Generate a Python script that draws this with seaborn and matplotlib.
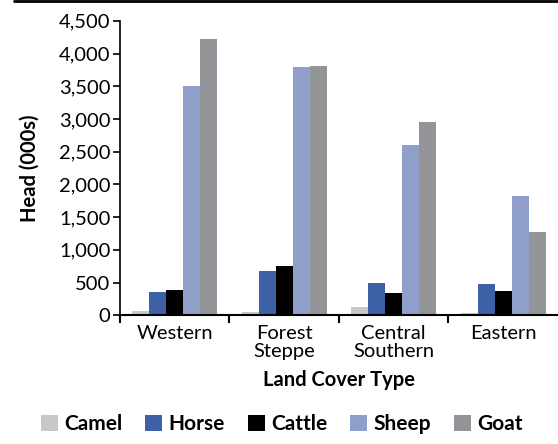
import numpy as np
import pandas as pd
import matplotlib
matplotlib.use("Agg")
import matplotlib.pyplot as plt
from matplotlib.lines import Line2D
from matplotlib.ticker import FuncFormatter
import seaborn as sns

# values (thousand head)
regions = ["Western", "Forest\nSteppe", "Central\nSouthern", "Eastern"]
animals = ["Camel", "Horse", "Cattle", "Sheep", "Goat"]
camel = [70, 50, 130, 30]
horse = [360, 680, 490, 480]
cattle = [390, 760, 340, 370]
sheep = [3510, 3790, 2600, 1830]
goat = [4220, 3810, 2950, 1280]
colors = ["#c8c8c8", "#3e60a6", "#000000", "#909fc9", "#939498"]

rows = []
for name, vals in zip(animals, [camel, horse, cattle, sheep, goat]):
    for reg, v in zip(regions, vals):
        rows.append({"Region": reg, "Animal": name, "Head": v})
df = pd.DataFrame(rows)

sns.set_style("white")
plt.rcParams["font.family"] = ["Lato", "DejaVu Sans"]
plt.rcParams["text.color"] = "black"
plt.rcParams["axes.labelcolor"] = "black"
plt.rcParams["xtick.color"] = "black"
plt.rcParams["ytick.color"] = "black"

fig = plt.figure(figsize=(5.58, 4.44), dpi=100)
ax = fig.add_axes([0.215, 0.29, 0.785, 0.663])

sns.barplot(data=df, x="Region", y="Head", hue="Animal", order=regions,
            hue_order=animals, palette=colors, width=0.78, saturation=1,
            linewidth=0, ax=ax, legend=True)

ax.set_xlim(-0.5, 3.5)
ax.set_ylim(0, 4500)
ax.set_yticks(np.arange(0, 4501, 500))
ax.yaxis.set_major_formatter(FuncFormatter(lambda v, p: f"{int(v):,}"))
ax.tick_params(axis="y", direction="out", length=5, width=1.2, labelsize=14.5,
               left=True, pad=2)
ax.set_xticks(range(4))
ax.set_xticklabels(regions, linespacing=1.1)
ax.set_xticks([-0.5, 0.5, 1.5, 2.5], minor=True)
ax.tick_params(axis="x", which="major", length=0, labelsize=14.5, pad=7)
ax.tick_params(axis="x", which="minor", direction="out", length=6, width=1.5,
               bottom=True)

for s in ["top", "right"]:
    ax.spines[s].set_visible(False)
ax.spines["left"].set_linewidth(1.2)
ax.spines["bottom"].set_linewidth(1.5)
ax.spines["left"].set_color("black")
ax.spines["bottom"].set_color("black")

ax.set_ylabel("Head (000s)", fontsize=14.5, fontweight="bold", labelpad=14)
ax.set_xlabel("Land Cover Type", fontsize=14.5, fontweight="bold", labelpad=7)

handles, labels = ax.get_legend_handles_labels()
ax.legend_.remove()
fig.legend(handles, labels, loc="center", bbox_to_anchor=(0.04, 0.02, 0.93, 0.05),
           mode="expand", ncol=5, frameon=False, handlelength=0.8,
           handleheight=0.8, handletextpad=0.3,
           prop={"size": 15, "weight": "bold"})

# thin rule across the top of the figure
fig.add_artist(Line2D([0.025, 1.0], [0.998, 0.998], color="black", lw=2,
                      transform=fig.transFigure))

fig.savefig("out.png", dpi=100)
